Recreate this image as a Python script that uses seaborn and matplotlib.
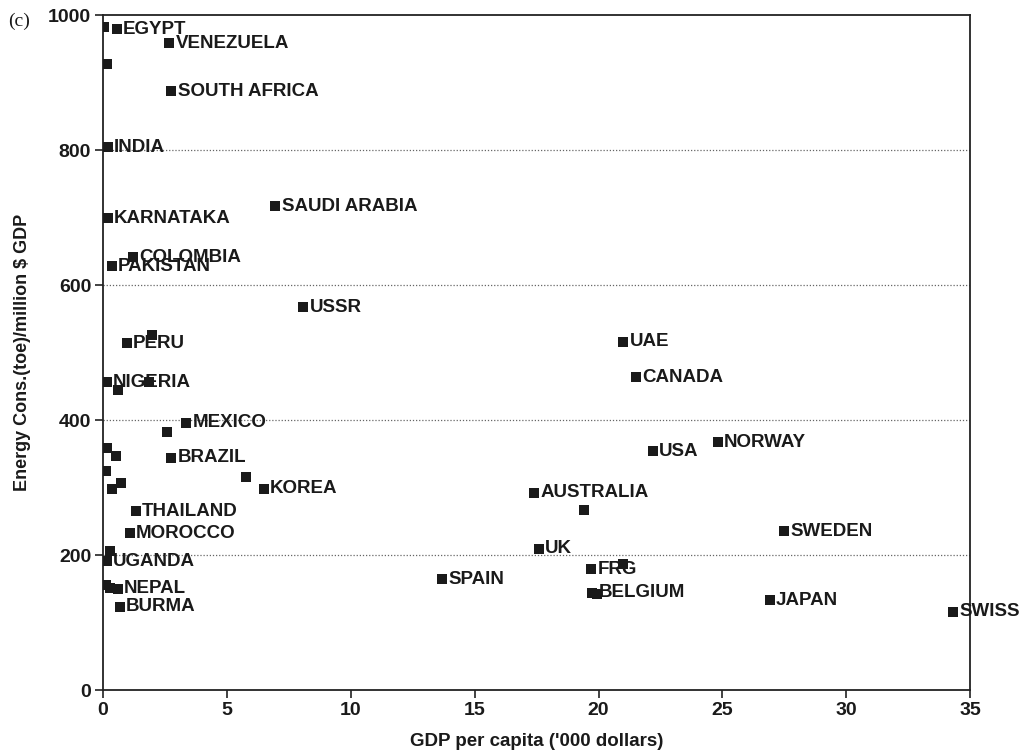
import matplotlib
matplotlib.use("Agg")
import matplotlib.pyplot as plt
import seaborn as sns
import pandas as pd

# ---- data ----
gdp = [0.05, 0.56, 2.68, 0.16, 2.76, 0.20, 0.20, 6.96, 1.20, 0.36, 8.08,
       0.96, 1.96, 0.16, 0.60, 1.84, 3.36, 2.60, 2.76, 0.16, 0.52, 0.12,
       5.76, 0.36, 0.72, 6.48, 1.32, 1.08, 0.28, 0.16, 0.12, 0.28, 0.60,
       0.68,
       21.0, 21.5, 22.2, 24.8, 17.4, 19.4, 27.5, 17.6, 19.7, 21.0, 19.75,
       19.95, 26.9, 34.3, 13.7]
energy = [982, 979, 958, 927, 887, 804, 699, 717, 641, 628, 567,
          514, 526, 456, 444, 456, 396, 382, 344, 358, 347, 324,
          316, 298, 307, 298, 265, 232, 206, 191, 156, 151, 150,
          123,
          516, 463, 354, 367, 292, 267, 235, 209, 179, 186, 144,
          142, 133, 116, 164]
names = ["", "EGYPT", "VENEZUELA", "", "SOUTH AFRICA", "INDIA", "KARNATAKA",
         "SAUDI ARABIA", "COLOMBIA", "PAKISTAN", "USSR",
         "PERU", "", "NIGERIA", "", "", "MEXICO", "", "BRAZIL", "", "", "",
         "", "", "", "KOREA", "THAILAND", "MOROCCO", "", "UGANDA", "", "", "NEPAL",
         "BURMA",
         "UAE", "CANADA", "USA", "NORWAY", "AUSTRALIA", "", "SWEDEN", "UK",
         "FRG", "", "BELGIUM",
         "", "JAPAN", "SWISS", "SPAIN"]

x_ticks = [0, 5, 10, 15, 20, 25, 30, 35]
y_ticks = [0, 200, 400, 600, 800, 1000]
grid_levels = [200, 400, 600, 800]

df = pd.DataFrame({"gdp": gdp, "energy": energy, "name": names})

sns.set_theme(style="ticks")
plt.rcParams["font.family"] = ["Liberation Sans", "DejaVu Sans"]

fig = plt.figure(figsize=(10.33, 7.51), dpi=100)
ax = fig.add_axes([0.0997, 0.0812, 0.8396, 0.8988])

for lvl in grid_levels:
    ax.axhline(lvl, color="#666666", linestyle=(0, (1, 1.5)), linewidth=0.9, zorder=0)

sns.scatterplot(data=df, x="gdp", y="energy", marker="s", s=58, color="#1a1a1a",
                edgecolor="#1a1a1a", linewidth=0, ax=ax, zorder=3, legend=False)

for gx, ey, nm in zip(gdp, energy, names):
    if nm:
        ax.annotate(nm, (gx, ey), xytext=(4.5, 0), textcoords="offset points",
                    ha="left", va="center", fontsize=13.5, fontweight="bold",
                    color="#1a1a1a", zorder=4, annotation_clip=False)

ax.set_xlim(0, 35)
ax.set_ylim(0, 1000)
ax.set_xticks(x_ticks)
ax.set_yticks(y_ticks)
ax.tick_params(axis="both", direction="out", length=6, width=1.2, color="#222222",
               labelsize=14, labelcolor="#1a1a1a", pad=2.5)
for lab in ax.get_xticklabels() + ax.get_yticklabels():
    lab.set_fontweight("bold")
for sp in ax.spines.values():
    sp.set_visible(True)
    sp.set_color("#222222")
    sp.set_linewidth(1.3)

ax.set_xlabel("GDP per capita ('000 dollars)", fontsize=13.5, fontweight="bold",
              color="#1a1a1a", labelpad=10)
ax.set_ylabel("Energy Cons.(toe)/million $ GDP", fontsize=13, fontweight="bold",
              color="#1a1a1a", labelpad=12)

fig.text(0.008, 0.972, "(c)", fontsize=14, family=["Liberation Serif", "DejaVu Serif"],
         color="#1a1a1a", ha="left", va="center")

fig.savefig("out.png", dpi=100)
